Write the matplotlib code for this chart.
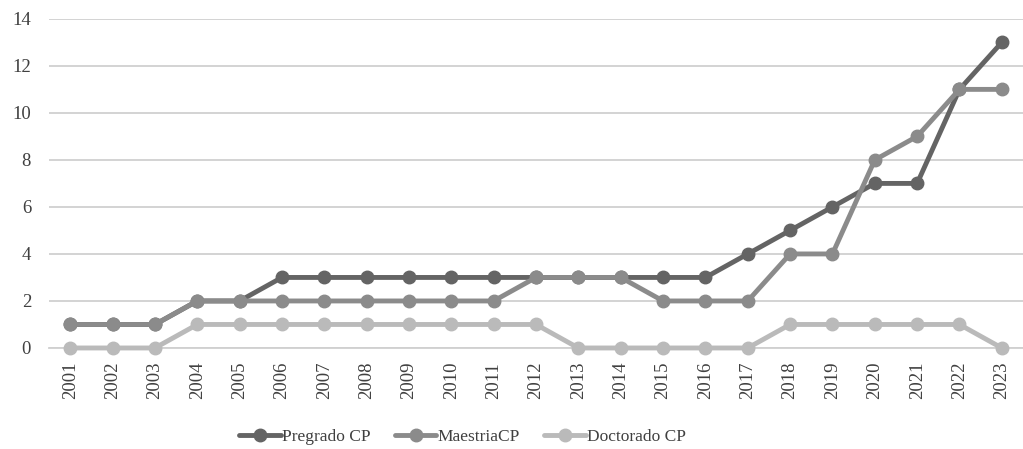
import matplotlib
matplotlib.use('Agg')
import matplotlib.pyplot as plt

plt.rcParams['font.family'] = ['Liberation Serif', 'DejaVu Serif']

# datos
anios = [str(a) for a in range(2001, 2024)]
pregrado = [1, 1, 1, 2, 2, 3, 3, 3, 3, 3, 3, 3, 3, 3, 3, 3, 4, 5, 6, 7, 7, 11, 13]
maestria = [1, 1, 1, 2, 2, 2, 2, 2, 2, 2, 2, 3, 3, 3, 2, 2, 2, 4, 4, 8, 9, 11, 11]
doctorado = [0, 0, 0, 1, 1, 1, 1, 1, 1, 1, 1, 1, 0, 0, 0, 0, 0, 1, 1, 1, 1, 1, 0]

series = [
    ('Pregrado CP', pregrado, '#646464'),
    ('MaestriaCP', maestria, '#8b8b8b'),
    ('Doctorado CP', doctorado, '#bababa'),
]

fig = plt.figure(figsize=(10.23, 4.49), dpi=100)
ax = fig.add_axes([0.048, 0.225, 0.952, 0.733])

x = list(range(len(anios)))
for nombre, vals, col in series:
    ax.plot(x, vals, color=col, lw=3.5, marker='o', ms=9, label=nombre,
            solid_capstyle='round', zorder=3, clip_on=False)

ax.set_xlim(-0.5, len(anios) - 0.5)
ax.set_ylim(0, 14)
ax.set_yticks(range(0, 15, 2))
ax.set_xticks(x)
ax.set_xticklabels(anios, rotation=90)
ax.grid(axis='y', color='#d0d0d0', lw=1.3, zorder=0)
for s in ['top', 'right', 'left']:
    ax.spines[s].set_visible(False)
ax.spines['bottom'].set_color('#d0d0d0')
ax.spines['bottom'].set_linewidth(1.3)
ax.tick_params(axis='both', length=0, labelsize=13.5, colors='#404040')
ax.tick_params(axis='y', pad=13)
ax.tick_params(axis='x', pad=10)
ax.set_axisbelow(True)

fig.legend(loc='center', bbox_to_anchor=(0.452, 0.027), ncol=3, frameon=False,
           fontsize=12.5, handlelength=2.4, handletextpad=0.05, columnspacing=1.4,
           labelcolor='#404040')

fig.savefig('out.png', dpi=100)
